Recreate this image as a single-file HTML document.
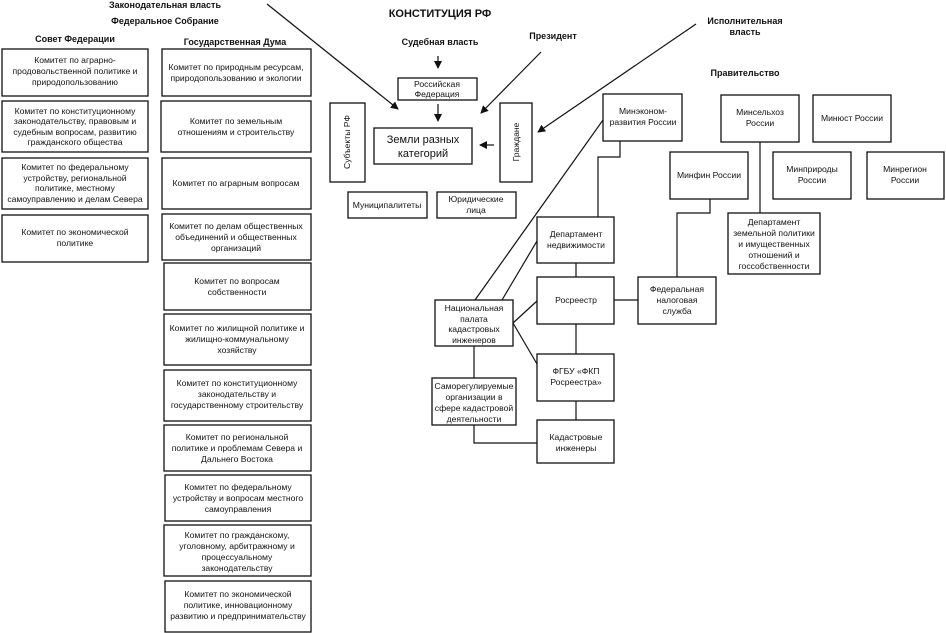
<!DOCTYPE html>
<html><head><meta charset="utf-8"><style>
body{margin:0;background:#fff}
svg{display:block}
text{font-family:"Liberation Sans",sans-serif;font-size:8.6px;fill:#111;text-anchor:middle}
.b{font-weight:bold;font-size:9px}
rect{fill:#fff;stroke:#111;stroke-width:1.3}
line,polyline{stroke:#111;stroke-width:1.2;fill:none}
</style></head><body>
<svg width="946" height="633" viewBox="0 0 946 633" xmlns="http://www.w3.org/2000/svg">
<defs><marker id="a" markerWidth="8" markerHeight="8" refX="7" refY="4" orient="auto" markerUnits="userSpaceOnUse"><path d="M0,0 L8,4 L0,8 z" fill="#111"/></marker></defs>

<text class="b" x="165" y="8">Законодательная власть</text>
<text class="b" x="165" y="24">Федеральное Собрание</text>
<text class="b" x="75" y="42">Совет Федерации</text>
<text class="b" x="235" y="45">Государственная Дума</text>

<!-- SF -->
<rect x="2" y="49" width="146" height="47"/>
<text x="75" y="63">Комитет по аграрно-</text><text x="75" y="74">продовольственной политике и</text><text x="75" y="85">природопользованию</text>
<rect x="2" y="101" width="146" height="51"/>
<text x="75" y="114">Комитет по конституционному</text><text x="75" y="124">законодательству, правовым и</text><text x="75" y="135">судебным вопросам, развитию</text><text x="75" y="145">гражданского общества</text>
<rect x="2" y="158" width="146" height="51"/>
<text x="75" y="170">Комитет по федеральному</text><text x="75" y="181">устройству, региональной</text><text x="75" y="191">политике, местному</text><text x="75" y="202">самоуправлению и делам Севера</text>
<rect x="2" y="215" width="146" height="47"/>
<text x="75" y="235">Комитет по экономической</text><text x="75" y="246">политике</text>

<!-- Duma -->
<rect x="162" y="49" width="149" height="47"/>
<text x="236" y="70">Комитет по природным ресурсам,</text><text x="236" y="81">природопользованию и экологии</text>
<rect x="161" y="101" width="150" height="51"/>
<text x="236" y="124">Комитет по земельным</text><text x="236" y="135">отношениям и строительству</text>
<rect x="162" y="158" width="149" height="51"/>
<text x="236" y="186">Комитет по аграрным вопросам</text>
<rect x="162" y="214" width="149" height="46"/>
<text x="236" y="229">Комитет по делам общественных</text><text x="236" y="240">объединений и общественных</text><text x="236" y="251">организаций</text>
<rect x="164" y="263" width="147" height="47"/>
<text x="237" y="284">Комитет по вопросам</text><text x="237" y="295">собственности</text>
<rect x="164" y="314" width="147" height="51"/>
<text x="237" y="331">Комитет по жилищной политике и</text><text x="237" y="342">жилищно-коммунальному</text><text x="237" y="353">хозяйству</text>
<rect x="164" y="370" width="147" height="51"/>
<text x="237" y="386">Комитет по конституционному</text><text x="237" y="397">законодательству и</text><text x="237" y="408">государственному строительству</text>
<rect x="164" y="425" width="147" height="46"/>
<text x="237" y="440">Комитет по региональной</text><text x="237" y="451">политике и проблемам Севера и</text><text x="237" y="462">Дальнего Востока</text>
<rect x="165" y="475" width="146" height="46"/>
<text x="238" y="490">Комитет по федеральному</text><text x="238" y="501">устройству и вопросам местного</text><text x="238" y="512">самоуправления</text>
<rect x="164" y="525" width="147" height="51"/>
<text x="237" y="538">Комитет по гражданскому,</text><text x="237" y="549">уголовному, арбитражному и</text><text x="237" y="560">процессуальному</text><text x="237" y="571">законодательству</text>
<rect x="165" y="581" width="146" height="51"/>
<text x="238" y="597">Комитет по экономической</text><text x="238" y="608">политике, инновационному</text><text x="238" y="619">развитию и предпринимательству</text>

<!-- center -->
<text class="b" x="440" y="17" style="font-size:11px">КОНСТИТУЦИЯ РФ</text>
<text class="b" x="440" y="45">Судебная власть</text>
<text class="b" x="553" y="39">Президент</text>
<text class="b" x="745" y="24">Исполнительная</text>
<text class="b" x="745" y="35">власть</text>
<text class="b" x="745" y="76">Правительство</text>

<line x1="438" y1="56" x2="438" y2="68" marker-end="url(#a)"/>
<rect x="398" y="78" width="79" height="22"/>
<text x="437" y="87">Российская</text><text x="437" y="97">Федерация</text>
<line x1="438" y1="104" x2="438" y2="121" marker-end="url(#a)"/>
<rect x="374" y="128" width="98" height="36"/>
<text x="423" y="143" style="font-size:11px">Земли разных</text><text x="423" y="157" style="font-size:11px">категорий</text>
<rect x="330" y="103" width="35" height="79"/>
<text transform="translate(350,142) rotate(-90)" x="0" y="0">Субъекты РФ</text>
<rect x="500" y="103" width="32" height="79"/>
<text transform="translate(519,142) rotate(-90)" x="0" y="0">Граждане</text>
<line x1="494" y1="145" x2="480" y2="145" marker-end="url(#a)"/>
<line x1="267" y1="4" x2="398" y2="109" marker-end="url(#a)"/>
<line x1="541" y1="52" x2="481" y2="113" marker-end="url(#a)"/>
<line x1="696" y1="24" x2="538" y2="132" marker-end="url(#a)"/>
<rect x="348" y="192" width="79" height="26"/>
<text x="387" y="208">Муниципалитеты</text>
<rect x="437" y="192" width="79" height="26"/>
<text x="476" y="202">Юридические</text><text x="476" y="213">лица</text>

<!-- right -->
<rect x="603" y="94" width="79" height="47"/>
<text x="643" y="114">Минэконом-</text><text x="643" y="125">развития России</text>
<rect x="721" y="95" width="78" height="47"/>
<text x="760" y="115">Минсельхоз</text><text x="760" y="126">России</text>
<rect x="813" y="95" width="78" height="47"/>
<text x="852" y="121">Минюст России</text>
<rect x="670" y="152" width="78" height="47"/>
<text x="709" y="178">Минфин России</text>
<rect x="773" y="152" width="78" height="47"/>
<text x="812" y="172">Минприроды</text><text x="812" y="183">России</text>
<rect x="867" y="152" width="77" height="47"/>
<text x="905" y="172">Минрегион</text><text x="905" y="183">России</text>
<rect x="728" y="213" width="92" height="61"/>
<text x="774" y="225">Департамент</text><text x="774" y="236">земельной политики</text><text x="774" y="247">и имущественных</text><text x="774" y="258">отношений и</text><text x="774" y="269">госсобственности</text>
<rect x="638" y="277" width="78" height="47"/>
<text x="677" y="292">Федеральная</text><text x="677" y="303">налоговая</text><text x="677" y="314">служба</text>
<rect x="537" y="217" width="77" height="46"/>
<text x="576" y="237">Департамент</text><text x="576" y="248">недвижимости</text>
<rect x="537" y="277" width="77" height="47"/>
<text x="576" y="303">Росреестр</text>
<rect x="537" y="354" width="77" height="47"/>
<text x="576" y="374">ФГБУ «ФКП</text><text x="576" y="385">Росреестра»</text>
<rect x="537" y="420" width="77" height="43"/>
<text x="576" y="440">Кадастровые</text><text x="576" y="451">инженеры</text>
<rect x="435" y="300" width="78" height="46"/>
<text x="474" y="311">Национальная</text><text x="474" y="322">палата</text><text x="474" y="332">кадастровых</text><text x="474" y="343">инженеров</text>
<rect x="432" y="378" width="84" height="47"/>
<text x="474" y="389">Саморегулируемые</text><text x="474" y="400">организации в</text><text x="474" y="411">сфере кадастровой</text><text x="474" y="422">деятельности</text>

<polyline points="620,141 620,157 598,157 598,217"/>
<line x1="760" y1="142" x2="760" y2="213"/>
<polyline points="710,199 710,213 677,213 677,277"/>
<line x1="576" y1="263" x2="576" y2="277"/>
<line x1="576" y1="324" x2="576" y2="354"/>
<line x1="576" y1="401" x2="576" y2="420"/>
<line x1="614" y1="300" x2="638" y2="300"/>
<line x1="475" y1="300" x2="603" y2="120"/>
<line x1="502" y1="300" x2="537" y2="241"/>
<line x1="513" y1="323" x2="537" y2="301"/>
<line x1="513" y1="323" x2="537" y2="364"/>
<line x1="474" y1="346" x2="474" y2="378"/>
<polyline points="474,425 474,443 537,443"/>
</svg>
</body></html>
